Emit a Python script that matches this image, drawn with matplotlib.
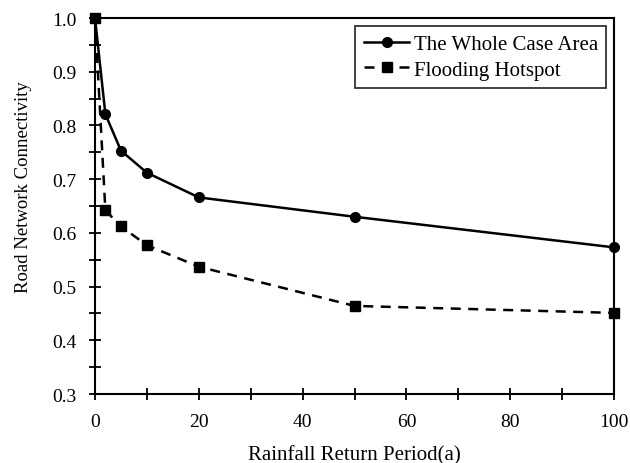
import matplotlib
matplotlib.use("Agg")
import matplotlib.pyplot as plt
from matplotlib.ticker import MultipleLocator, FormatStrFormatter

plt.rcParams['font.family'] = ['Liberation Serif', 'DejaVu Serif']

# return period (years) and connectivity values
periods = [0, 2, 5, 10, 20, 50, 100]
whole_area = [1.0, 0.821, 0.753, 0.712, 0.666, 0.630, 0.573]
hotspot = [1.0, 0.642, 0.612, 0.577, 0.537, 0.464, 0.451]

fig = plt.figure(figsize=(6.3, 4.64), dpi=100)
ax = fig.add_axes([0.1508, 0.1487, 0.8238, 0.8103])

ax.plot(periods, whole_area, color='black', linestyle='-', linewidth=1.8,
        marker='o', markersize=7, label='The Whole Case Area', clip_on=False, zorder=3)
ax.plot(periods, hotspot, color='black', linestyle=(0, (4, 3)), linewidth=1.8,
        marker='s', markersize=6.5, label='Flooding Hotspot', clip_on=False, zorder=3)

ax.set_xlim(0, 100)
ax.set_ylim(0.3, 1.0)
ax.xaxis.set_major_locator(MultipleLocator(20))
ax.xaxis.set_minor_locator(MultipleLocator(10))
ax.yaxis.set_major_locator(MultipleLocator(0.1))
ax.yaxis.set_minor_locator(MultipleLocator(0.05))
ax.yaxis.set_major_formatter(FormatStrFormatter('%.1f'))
ax.tick_params(which='both', direction='inout', length=8, width=1.3, labelsize=14,
               top=False, right=False)
ax.tick_params(axis='x', which='major', pad=9.5)
ax.tick_params(axis='y', which='major', pad=9.5)
for s in ax.spines.values():
    s.set_linewidth(1.5)

ax.set_xlabel('Rainfall Return Period(a)', fontsize=15, labelpad=11)
ax.set_ylabel('Road Network Connectivity', fontsize=13.5)
ax.yaxis.set_label_coords(-0.121, 0.552)

leg = ax.legend(loc='upper right', fontsize=15, frameon=True, fancybox=False,
                edgecolor='black', handlelength=2.2, handletextpad=0.2,
                borderpad=0.4, labelspacing=0.3, borderaxespad=0,
                bbox_to_anchor=(0.985, 0.979))
leg.get_frame().set_linewidth(1.3)

fig.savefig('out.png', dpi=100)
